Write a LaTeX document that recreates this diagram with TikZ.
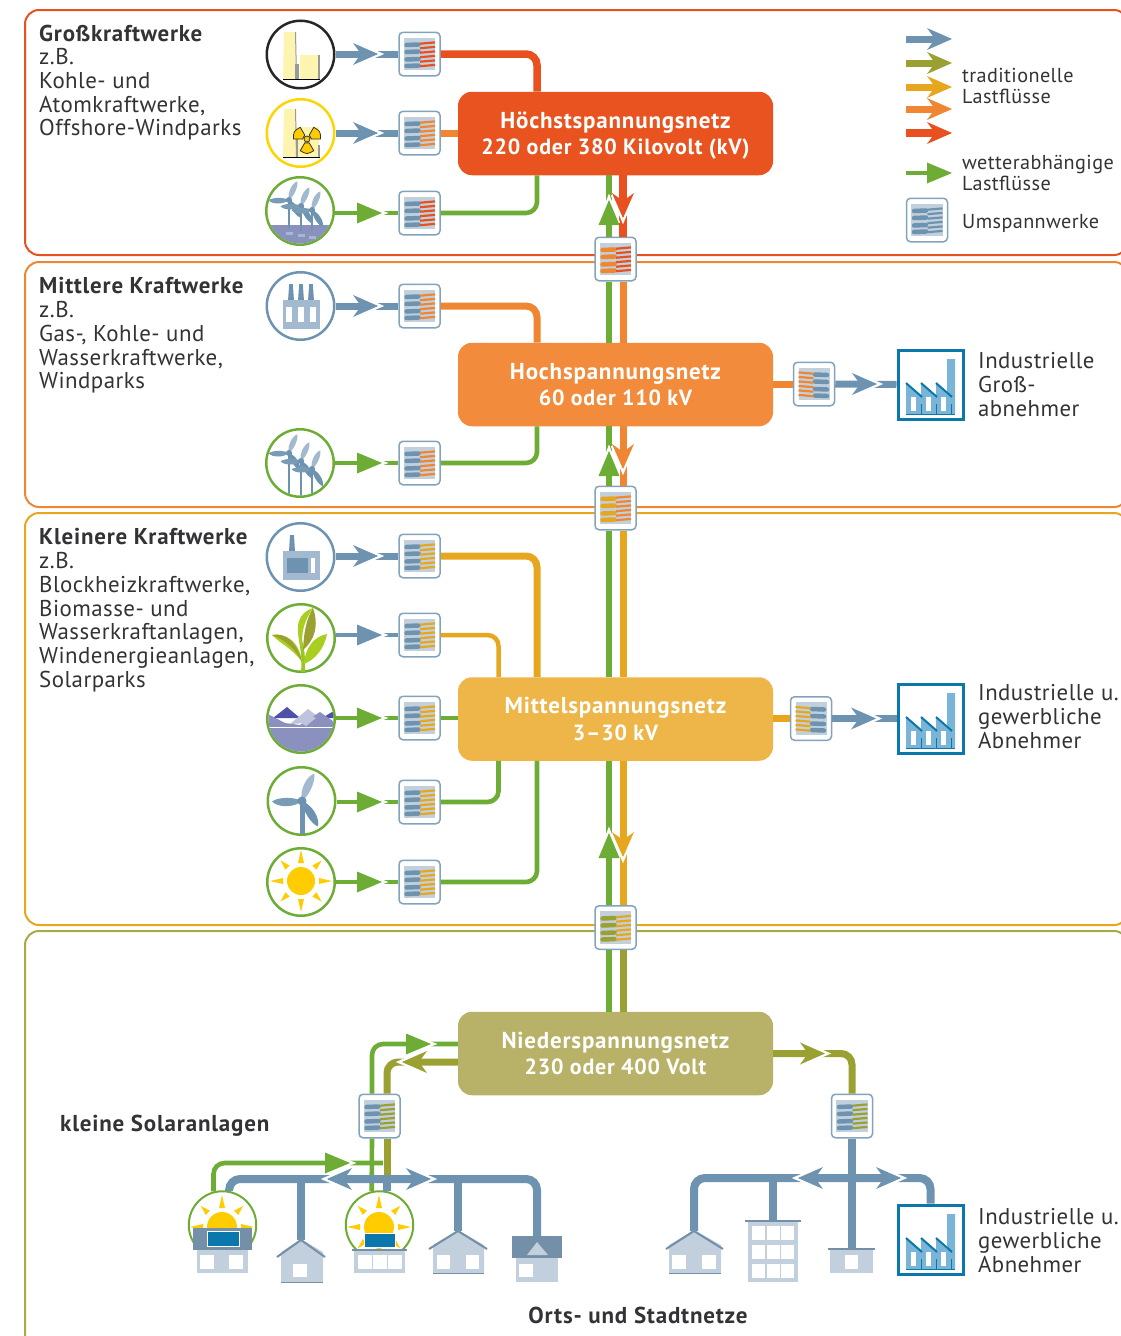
\documentclass[tikz,border=0pt]{standalone}
\usepackage{fontspec}
\setmainfont[LetterSpace=2,BoldFeatures={LetterSpace=3.5}]{PT Sans}
\definecolor{cred}{HTML}{E8511F}
\definecolor{corange}{HTML}{F08532}
\definecolor{camber}{HTML}{E6A71E}
\definecolor{colive}{HTML}{9BA032}
\definecolor{cgreen}{HTML}{6EAD35}
\definecolor{cblue}{HTML}{6D93B0}
\definecolor{hred}{HTML}{E9531F}
\definecolor{horange}{HTML}{F28C3C}
\definecolor{hamber}{HTML}{EEB549}
\definecolor{holive}{HTML}{B7B267}
\definecolor{bolive}{HTML}{A8AB45}
\definecolor{cpale}{HTML}{C1D0DC}
\definecolor{cmid}{HTML}{A3B9D0}
\definecolor{cdark}{HTML}{7490A8}
\definecolor{cframe}{HTML}{0A78AD}
\definecolor{cfact}{HTML}{7AB4D7}
\definecolor{ctext}{HTML}{333335}
\definecolor{cyellow}{HTML}{FFCC00}
\definecolor{cpaley}{HTML}{FDF4B0}
\definecolor{cwater}{HTML}{8A91BE}
\newcommand\secondline{\fontsize{22}{26.5}\selectfont}
\newcommand\headB[4]{\begin{scope}[shift={(#1,#2)},rotate=#3]
 \draw[white,line width=2.5pt,miter limit=10] (-23,11)--(3,0)--(-23,-11);
 \fill[#4] (0,0)--(-25,11)--(-17,0)--(-25,-11)--cycle;\end{scope}}
\newcommand\headT[4]{\begin{scope}[shift={(#1,#2)},rotate=#3]
 \draw[white,line width=2.5pt,miter limit=10] (-23,10)--(3,0)--(-23,-10);
 \fill[#4] (0,0)--(-25,10.5)--(-25,-10.5)--cycle;\end{scope}}
\newcommand\subst[6]{\node[subbox] (#1) at (#2,#3) {};
 \begin{scope}[shift={(#2,#3)},xscale=#6]
 \fill[cpale] (-16,-16.5) rectangle (15.5,16);
 \foreach \o in {-9.5,-2.5,5,11.5}{\draw[#4,line width=4.5pt,line cap=round] (-13,\o+.5)--(-1,\o);}
 \foreach \o in {-11,-6.5,-2,2.5,7,11.5}{\draw[#5,line width=2.2pt] (0.5,\o+.7)--(15.5,\o-.6);}
 \end{scope}}
\newcommand\factory[3]{\node[factbox] (#1) at (#2,#3) {};
 \begin{scope}[shift={(#2-33.5,#3-35.5)}]
 \fill[cfact] (9,65)--(9,34)--(24,47)--(24,34)--(39,47)--(39,34)--(50,45)--(50,10)--(58,10)--(58,65)--cycle;
 \foreach \d in {9,24,39}{\draw[cframe,line width=2pt] (\d,34)--(\d+16,48);
  \fill[white] (\d+5,48) rectangle (\d+10,62);
  \draw[cframe,line width=.5pt] (\d+15,55)--(\d+15,65);}
 \draw[cframe,line width=.6pt] (9,65)--(58,65);
 \end{scope}}
\newcommand\turb[5]{\begin{scope}[shift={(#1,#2)},scale=#3]
 \draw[cblue,line width=#5pt] (0,0)--(0,#4/#3);
 \fill[cmid,rotate=66] (0,0) .. controls (8,-6.5) and (24,-6.5) .. (30,0) .. controls (24,4.5) and (8,4.5) .. (0,0)--cycle;
 \fill[cblue!80!cmid,rotate=181] (0,0) .. controls (8,-6.5) and (24,-6.5) .. (30,0) .. controls (24,4.5) and (8,4.5) .. (0,0)--cycle;
 \fill[cblue,rotate=-58] (0,0) .. controls (8,-6.5) and (24,-6.5) .. (30,0) .. controls (24,4.5) and (8,4.5) .. (0,0)--cycle;
 \fill[cblue] (0,0) circle (4.5);
 \end{scope}}
\newcommand\sunicon[3]{\begin{scope}[shift={(#1,#2)}]
 \fill[cyellow] (0,0) circle (#3);
 \foreach \a in {0,90,180,270}{\fill[cyellow,rotate=\a] (#3+4,-3)--(#3+17,0)--(#3+4,3)--cycle;}
 \foreach \a in {45,135,225,315}{\fill[cyellow,rotate=\a] (#3+5,-3)--(#3+15,0)--(#3+5,3)--cycle;}
 \end{scope}}
\begin{document}
\begin{tikzpicture}[x=1pt,y=-1pt,
 bandbox/.style={line width=2pt,rounded corners=14pt},
 hubbox/.style={minimum width=315pt,minimum height=83.5pt,rounded corners=14pt,inner sep=0pt,text=white,align=center,font=\fontsize{23}{26.5}\selectfont\bfseries},
 subbox/.style={draw=cblue!85!white,line width=1.5pt,fill=white,rounded corners=4pt,minimum width=41pt,minimum height=43.5pt,inner sep=0pt},
 factbox/.style={draw=cframe,line width=3pt,fill=white,minimum width=65pt,minimum height=69pt,inner sep=0pt},
 iconc/.style={circle,line width=2.5pt,fill=white,minimum size=67.5pt,inner sep=0pt},
 flowb/.style={cblue,line width=7pt},
 flowbn/.style={cblue,line width=4.5pt},
 flowg/.style={cgreen,line width=4.6pt},
 flowr/.style={cred,line width=7.5pt},
 flowo/.style={corange,line width=7pt},
 flowa/.style={camber,line width=7pt},
 flowv/.style={colive,line width=7pt},
 trunk/.style={cblue,line width=8pt},
 leftlab/.style={anchor=north west,inner sep=0pt,align=left,text=ctext,font=\fontsize{22.9}{23.7}\selectfont},
 sidelab/.style={anchor=north west,inner sep=0pt,align=left,text=ctext,font=\fontsize{22.8}{23.9}\selectfont},
 leglab/.style={anchor=north west,inner sep=0pt,align=left,text=ctext,font=\fontsize{20.2}{21}\selectfont},
 boldlab/.style={inner sep=0pt,text=ctext,font=\fontsize{23}{26}\selectfont\bfseries},
 rc/.style={rounded corners=11pt},
]
\useasboundingbox (0,0) rectangle (1121,1336);
\begin{scope}
\clip (0,0) rectangle (1121,1336);
\draw[bandbox,cred] (25,10) rectangle (1128,255);
\draw[bandbox,corange] (25,262) rectangle (1128,507);
\draw[bandbox,camber] (25,513) rectangle (1128,925);
\draw[bandbox,bolive] (25,931) rectangle (1128,1352);
\end{scope}
% texts
\node[leftlab] (t1) at (39,24.5) {\textbf{Großkraftwerke}\\z.B.\\Kohle- und\\Atomkraftwerke,\\Offshore-Windparks};
\node[leftlab] (t2) at (39,277.5) {\textbf{Mittlere Kraftwerke}\\z.B.\\Gas-, Kohle- und\\Wasserkraftwerke,\\Windparks};
\node[leftlab] (t3) at (39,528.5) {\textbf{Kleinere Kraftwerke}\\z.B.\\Blockheizkraftwerke,\\Biomasse- und\\Wasserkraftanlagen,\\Windenergieanlagen,\\Solarparks};
\node[leglab] (l1) at (962,68) {traditionelle\\Lastflüsse};
\node[leglab] (l2) at (962,155) {wetterabhängige\\Lastflüsse};
\node[leglab] (l3) at (962,214) {Umspannwerke};
\node[sidelab] (s1t) at (978,352.5) {Industrielle\\Groß-\\abnehmer};
\node[sidelab] (s2t) at (978,684.5) {Industrielle u.\\gewerbliche\\Abnehmer};
\node[sidelab] (s3t) at (978,1208.5) {Industrielle u.\\gewerbliche\\Abnehmer};
\node[boldlab,anchor=west] (klein) at (60,1126) {kleine Solaranlagen};
\node[boldlab] (orts) at (638,1315) {Orts- und Stadtnetze};
% hubs
\node[hubbox,fill=hred] (h1) at (615.5,133.5) {\rule{0pt}{21pt}Höchstspannungsnetz\\{\secondline 220 oder 380 Kilovolt (kV)}};
\node[hubbox,fill=horange] (h2) at (615.5,384.5) {Hochspannungsnetz\\{\secondline 60 oder 110 kV}};
\node[hubbox,fill=hamber] (h3) at (615.5,719) {Mittelspannungsnetz\\{\secondline 3–30 kV}};
\node[hubbox,fill=holive] (h4) at (615.5,1053.5) {Niederspannungsnetz\\{\secondline 230 oder 400 Volt}};
% icon circles, band 1
\node[iconc,draw=black!85] (c1) at (300.5,54.5) {};
\begin{scope}
\fill[cpaley] (283,79)--(284,32)--(295,32)--(296,79)--cycle;
\fill[gray!80] (295,32)--(296,32)--(297,79)--(296,79)--cycle;
\fill[gray!80] (295,64) rectangle (299,79);
\fill[cpaley] (300,55) rectangle (318,79);
\fill[gray!80] (318,55) rectangle (320,79);
\draw[black,line width=1pt] (283,79)--(320,79);
\end{scope}
\node[iconc,draw=cyellow!85!yellow] (c2) at (300.5,133) {};
\begin{scope}
\fill[cpaley] (283,157)--(284,109)--(295,109)--(296,157)--cycle;
\fill[cpaley] (296,127) rectangle (319,157);
\fill[gray!80] (295,109)--(296,109)--(297,157)--(296,157)--cycle;
\fill[gray!80] (296,135) rectangle (298,157);
\fill[gray!80] (318,145) rectangle (320,157);
\begin{scope}[shift={(307,139)}]
\foreach \a in {90,210,330}{\filldraw[fill=cyellow,draw=black!80,line width=.8pt] (\a-30:4.5)--(\a-30:13.5) .. controls (\a:15.5) .. (\a+30:13.5)--(\a+30:4.5)--cycle;}
\filldraw[fill=cyellow,draw=black!80,line width=.8pt] (0,0) circle (3);
\end{scope}
\draw[black,line width=1pt] (283,157)--(320,157);
\end{scope}
\node[iconc,draw=cgreen] (c3) at (300,211) {};
\begin{scope}
\clip (300,211) circle (32.5);
\fill[cwater] (260,225) rectangle (340,250);
\foreach \x/\y in {289/233,301/235,312/237}{\fill[cmid] (\x-3.5,\y-1.5) rectangle (\x+3.5,\y+1.5);}
\turb{289}{200}{.68}{29}{2.5}
\turb{301}{206}{.68}{25}{2.5}
\turb{312}{210}{.68}{20}{2.5}
\end{scope}
% band 2
\node[iconc,draw=cblue] (c4) at (300.5,306) {};
\begin{scope}
\foreach \x in {291,301,311}{\fill[cblue] (\x-3,301)--(\x-1.8,284)--(\x+1.8,284)--(\x+3,301)--cycle;}
\fill[cmid] (283,300) rectangle (320,329);
\foreach \x in {286,298,310}{\fill[white] (\x,307) rectangle (\x+6,322);}
\end{scope}
\node[iconc,draw=cgreen] (c5) at (300,463) {};
\begin{scope}
\clip (300,463) circle (32.5);
\turb{289}{453}{.68}{46}{2.5}
\turb{301}{461}{.68}{37}{2.5}
\turb{312}{469}{.68}{26}{2.5}
\end{scope}
% band 3
\node[iconc,draw=cblue] (c6) at (300.5,557) {};
\begin{scope}
\fill[cblue] (289,552)--(290,535)--(294,535)--(295,552)--cycle;
\fill[cmid] (283,551) rectangle (320,580);
\fill[cblue] (287,558) rectangle (308,573);
\fill[white] (311,558) rectangle (315,573);
\end{scope}
\node[iconc,draw=cgreen] (c7) at (301,638) {};
\begin{scope}
\fill[cgreen!70!yellow] (301,672) .. controls (303,650) and (297,640) .. (299,630) .. controls (302,640) and (306,650) .. (305,672)--cycle;
\fill[cgreen!60!yellow] (272,635) .. controls (285,632) and (300,642) .. (302,662) .. controls (292,648) and (282,645) .. (272,635)--cycle;
\fill[colive] (272,635) .. controls (285,633) and (296,640) .. (302,662) .. controls (296,650) and (286,640) .. (272,635)--cycle;
\fill[cgreen!60!yellow] (313,608) .. controls (300,612) and (292,625) .. (303,650) .. controls (300,632) and (305,620) .. (313,608)--cycle;
\fill[colive] (313,608) .. controls (319,625) and (315,640) .. (303,650) .. controls (304,632) and (306,620) .. (313,608)--cycle;
\fill[cgreen!60!yellow] (327,634) .. controls (312,637) and (305,650) .. (304,664) .. controls (314,660) and (324,650) .. (327,634)--cycle;
\end{scope}
\node[iconc,draw=cgreen] (c8) at (301,719) {};
\begin{scope}
\clip (301,719) circle (32.5);
\fill[cwater!70!blue!80!black] (273,718)--(287,707)--(300,718)--cycle;
\fill[cwater!70!blue!80!black] (322,718)--(332,712)--(340,718)--cycle;
\fill[cwater!55!white] (290,724)--(308,709)--(325,722)--cycle;
\fill[cwater] (262,711)--(285,723)--(300,725)--(320,712)--(340,726)--(340,728)--(262,728)--cycle;
\fill[cwater!55!white] (296,720)--(308,714)--(316,718)--(306,726)--cycle;
\fill[cwater] (262,728) rectangle (340,760);
\draw[white,line width=1pt] (262,727)--(340,727);
\end{scope}
\node[iconc,draw=cgreen] (c9) at (301.5,801) {};
\turb{302}{801}{1}{33}{5}
\node[iconc,draw=cgreen] (c10) at (301,882) {};
\sunicon{301}{881}{14}
% substations
\subst{s1}{419.5}{54}{cblue}{cred}{1}
\subst{s2}{419.5}{133}{cblue}{corange}{1}
\subst{s3}{419.5}{213}{cblue}{cred}{1}
\subst{s4}{419.5}{306}{cblue}{corange}{1}
\subst{s5}{419.5}{463}{cblue}{corange}{1}
\subst{s6}{419.5}{556}{cblue}{camber}{1}
\subst{s7}{419.5}{635}{cblue}{camber}{1}
\subst{s8}{419.5}{718}{cblue}{camber}{1}
\subst{s9}{419.5}{802}{cblue}{camber}{1}
\subst{s10}{419.5}{882}{cblue}{camber}{1}
\subst{sa}{615.5}{259}{corange}{cred}{1}
\subst{sb}{615.5}{508}{camber}{corange}{1}
\subst{sc}{615.5}{927.5}{colive}{camber}{1}
\subst{sd}{814}{384}{cblue}{corange}{-1}
\subst{se}{811}{718.5}{cblue}{camber}{-1}
\subst{sf}{379.5}{1116}{cblue}{colive}{1}
\subst{sg}{852}{1116}{cblue}{colive}{1}
\subst{leg}{927}{220}{cblue}{cblue}{1}
% factories
\factory{f1}{930.5}{384.5}
\factory{f2}{930.5}{718.5}
\factory{f3}{930.5}{1239.5}
% connectors left
\draw[flowb] (c1.east |- s1.west)--(s1.west);
\draw[flowb] (c2.east |- s2.west)--(s2.west);
\draw[flowg] (c3.east |- s3.west)--(s3.west);
\draw[flowb] (c4.east |- s4.west)--(s4.west);
\draw[flowg] (c5.east |- s5.west)--(s5.west);
\draw[flowb] (c6.east |- s6.west)--(s6.west);
\draw[flowbn] (c7.east |- s7.west)--(s7.west);
\draw[flowg] (c8.east |- s8.west)--(s8.west);
\draw[flowg] (c9.east |- s9.west)--(s9.west);
\draw[flowg] (c10.east |- s10.west)--(s10.west);
\headB{378}{54}{0}{cblue}
\headB{378}{133}{0}{cblue}
\headT{382}{213}{0}{cgreen}
\headB{378}{306}{0}{cblue}
\headT{382}{463}{0}{cgreen}
\headB{378}{556}{0}{cblue}
\headT{382}{635}{0}{cblue}
\headT{382}{718}{0}{cgreen}
\headT{382}{802}{0}{cgreen}
\headT{382}{882}{0}{cgreen}
% to hubs
\draw[flowr,rc] (s1.east) -| ([xshift=-78.5pt]h1.north);
\draw[flowo] (s2.east) -- (s2.east -| h1.west);
\draw[flowg,rc] (s3.east) -| ([xshift=-78.5pt]h1.south);
\draw[flowo,rc] (s4.east) -| ([xshift=-78.5pt]h2.north);
\draw[flowg,rc] (s5.east) -| ([xshift=-78.5pt]h2.south);
\draw[flowa,rc] (s6.east) -| ([xshift=-78.5pt]h3.north);
\draw[camber,line width=4.5pt,rc] (s7.east) -| ([xshift=-117pt]h3.north);
\draw[flowg] (s8.east)--(s8.east -| h3.west);
\draw[flowg,rc] (s9.east) -| ([xshift=-117pt]h3.south);
\draw[flowg,rc] (s10.east) -| ([xshift=-78.5pt]h3.south);
% centre verticals
\draw[flowg,line width=5.5pt] ([xshift=-6.5pt]h1.south)--([xshift=-6.5pt]sa.north);
\draw[flowr] ([xshift=7.5pt]h1.south)--([xshift=7.5pt]sa.north);
\draw[flowg,line width=5.5pt] ([xshift=-6.5pt]sa.south)--([xshift=-6.5pt]h2.north);
\draw[flowo] ([xshift=7.5pt]sa.south)--([xshift=7.5pt]h2.north);
\draw[flowg,line width=5.5pt] ([xshift=-6.5pt]h2.south)--([xshift=-6.5pt]sb.north);
\draw[flowo] ([xshift=7.5pt]h2.south)--([xshift=7.5pt]sb.north);
\draw[flowg,line width=5.5pt] ([xshift=-6.5pt]sb.south)--([xshift=-6.5pt]h3.north);
\draw[flowa] ([xshift=7.5pt]sb.south)--([xshift=7.5pt]h3.north);
\draw[flowg,line width=5.5pt] ([xshift=-6.5pt]h3.south)--([xshift=-6.5pt]sc.north);
\draw[flowa] ([xshift=7.5pt]h3.south)--([xshift=7.5pt]sc.north);
\draw[flowg,line width=5.5pt] ([xshift=-6.5pt]sc.south)--([xshift=-6.5pt]h4.north);
\draw[flowv] ([xshift=7.5pt]sc.south)--([xshift=7.5pt]h4.north);
\headT{609}{200}{90}{cgreen}
\headB{623}{218}{-90}{cred}
\headT{609}{451}{90}{cgreen}
\headB{623}{469}{-90}{corange}
\headT{609}{833}{90}{cgreen}
\headB{623}{857}{-90}{camber}
% to factories
\draw[flowo] (h2.east |- sd.west)--(sd.west);
\draw[flowa] (h3.east |- se.west)--(se.west);
\draw[flowb] (sd.east)--(f1.west);
\draw[flowb] (se.east)--(f2.west);
\headB{877}{384}{0}{cblue}
\headB{876}{718.5}{0}{cblue}
% Low-voltage
\coordinate (gj) at (372,1163);
\coordinate (tr) at (430,1179);
\coordinate (tr2) at (850,1178);
\coordinate (h2top) at (301,1240);
\coordinate (h4top) at (458,1231);
\coordinate (h5top) at (537,1237);
\coordinate (hatop) at (694,1231);
\coordinate (bltop) at (773,1221);
\coordinate (sstop) at (852,1249);
\node[circle,draw=cgreen,line width=2pt,fill=white,minimum size=67.5pt,inner sep=0pt] (sun1) at (222.5,1225) {};
\node[circle,draw=cgreen,line width=2pt,fill=white,minimum size=67.5pt,inner sep=0pt] (sun2) at (379.5,1225) {};
\sunicon{222}{1227}{15}
\sunicon{379}{1227}{15}
\draw[flowg,rc] ([xshift=-7.5pt]sf.north) |- ([yshift=9.5pt]h4.west);
\draw[flowv,rc] ([xshift=7.5pt]sf.north) |- ([yshift=-8.5pt]h4.west);
\draw[flowv,rc] (h4.east) -| (sg.north);
\headT{431}{1044}{0}{cgreen}
\headB{402}{1062}{180}{colive}
\headB{825}{1053.5}{0}{colive}
\draw[flowg] ([xshift=-7.5pt]sf.south)--(sun2.103);
\draw[flowg,rc] (sun1.105) |- (gj) -- (gj -| sf.south);
\headT{350}{1163}{0}{cgreen}
\draw[flowv] ([xshift=7.5pt]sf.south)--([xshift=7.5pt]sf.south |- tr);
\draw[trunk,rc] (sun1.79) |- (tr) -| (h5top);
\draw[trunk] (sun2.77)--(sun2.77 |- tr);
\draw[trunk] (h2top |- tr)--(h2top);
\draw[trunk] (h4top |- tr)--(h4top);
\headB{327}{1179}{180}{cblue}
\headB{431}{1179}{0}{cblue}
\draw[trunk] (sg.south)--(sstop);
\draw[trunk,rc] (hatop) |- (tr2) -| (f3.north);
\draw[trunk] (bltop |- tr2)--(bltop);
\headB{798}{1178}{180}{cblue}
\headB{901}{1178}{0}{cblue}
% houses
\fill[cpale] (197,1250) rectangle (248,1273);
\foreach \x in {200,229}{\fill[white] (\x,1255) rectangle (\x+14,1269);}
\fill[cdark] (193,1228) rectangle (252,1250);
\filldraw[fill=cframe,draw=white,line width=1pt] (207,1231) rectangle (239,1246);
\fill[cpale] (281,1252)--(301,1239)--(323,1252)--(323,1282)--(281,1282)--cycle;
\draw[cdark,line width=2pt] (277,1257)--(301,1240)--(325,1257);
\draw[cdark,line width=1pt] (281,1282)--(323,1282);
\fill[white] (293,1264) rectangle (307,1277);
\fill[cpale] (354,1250) rectangle (405,1273);
\draw[cdark,line width=2pt] (352,1250)--(407,1250);
\foreach \x in {358,373,388}{\fill[white] (\x,1255) rectangle (\x+14,1269);}
\filldraw[fill=cframe,draw=white,line width=1pt] (364,1233) rectangle (395,1247);
\fill[cpale] (433,1245)--(458,1230)--(484,1245)--(484,1273)--(433,1273)--cycle;
\draw[cdark,line width=2pt] (429,1249)--(458,1231)--(487,1249);
\foreach \x in {437,466}{\fill[white] (\x,1255) rectangle (\x+13,1269);}
\draw[cdark,line width=1pt] (433,1273)--(484,1273);
\fill[cpale] (516,1258) rectangle (558,1282);
\fill[cdark] (512,1236) rectangle (562,1258);
\fill[cpale] (537,1242)--(548,1255)--(527,1255)--cycle;
\fill[white] (519,1264) rectangle (533,1277);
\fill[cpale] (669,1245)--(694,1230)--(721,1245)--(721,1273)--(669,1273)--cycle;
\draw[cdark,line width=2pt] (666,1249)--(694,1231)--(723,1249);
\foreach \x in {672,702}{\fill[white] (\x,1255) rectangle (\x+13.5,1269);}
\draw[cdark,line width=1pt] (669,1273)--(721,1273);
\fill[cpale] (748,1222) rectangle (798,1282);
\draw[cdark,line width=2pt] (745,1221)--(801,1221);
\foreach \x in {752,767,781}{\foreach \y in {1226,1245,1264}{\fill[white] (\x,\y) rectangle (\x+13,\y+14);}}
\fill[cpale] (830,1250) rectangle (873,1273);
\draw[cdark,line width=2pt] (828,1249)--(875,1249);
\fill[white] (845,1255) rectangle (858,1269);
% legend arrows
\coordinate (la1a) at (906,39);\coordinate (la1b) at (935,39);
\coordinate (la2a) at (906,63);\coordinate (la2b) at (935,63);
\coordinate (la3a) at (906,87);\coordinate (la3b) at (935,87);
\coordinate (la4a) at (906,109);\coordinate (la4b) at (935,109);
\coordinate (la5a) at (906,133);\coordinate (la5b) at (935,133);
\coordinate (la6a) at (906,173);\coordinate (la6b) at (930,173);
\draw[flowb] (la1a)--(la1b); \headB{952}{39}{0}{cblue}
\draw[flowv] (la2a)--(la2b); \headB{952}{63}{0}{colive}
\draw[flowa] (la3a)--(la3b); \headB{952}{87}{0}{camber}
\draw[flowo] (la4a)--(la4b); \headB{952}{109}{0}{corange}
\draw[flowr] (la5a)--(la5b); \headB{952}{133}{0}{cred}
\draw[flowg] (la6a)--(la6b); \headT{952}{173}{0}{cgreen}
\end{tikzpicture}
\end{document}
